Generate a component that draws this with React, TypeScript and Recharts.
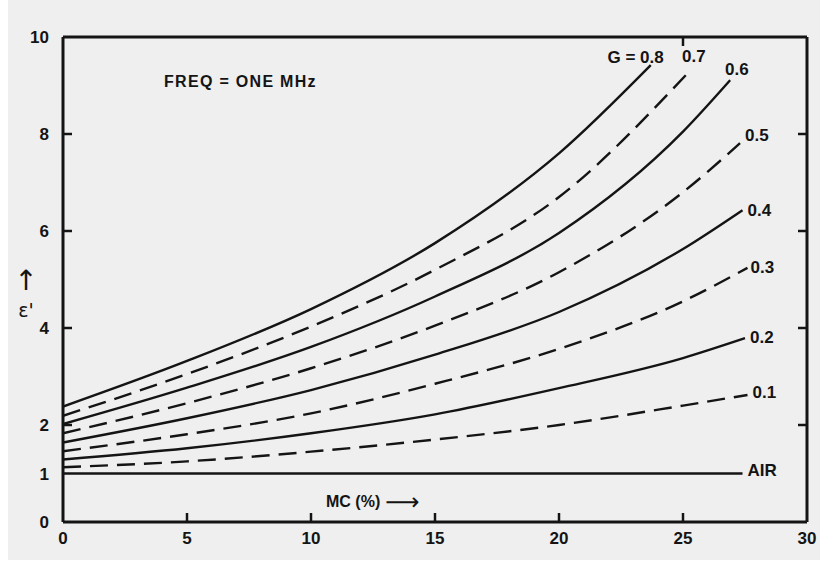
import React from 'react';
import { LineChart, Line, XAxis, YAxis } from 'recharts';

// ---- axis ticks ----
const X_TICKS = [0, 5, 10, 15, 20, 25, 30];
const X_MARKS = [5, 10, 15, 20, 25];
const TOP_MARKS = [25];
const Y_TICKS = [0, 1, 2, 4, 6, 8, 10];
const Y_MARKS = [2, 4, 6, 8];

// ---- series (MC %, epsilon') ----
const MC_08 = [0, 5, 10, 15, 20, 23.7];
const EPS_08 = [2.38, 3.32, 4.39, 5.75, 7.6, 9.42];
const MC_07 = [0, 5, 10, 15, 20, 25.2];
const EPS_07 = [2.19, 3.05, 4.03, 5.2, 6.7, 9.26];
const MC_06 = [0, 5, 10, 15, 20, 25, 26.9];
const EPS_06 = [2.02, 2.77, 3.61, 4.65, 5.96, 8.05, 9.11];
const MC_05 = [0, 5, 10, 15, 20, 25, 27.3];
const EPS_05 = [1.83, 2.45, 3.17, 4.05, 5.15, 6.8, 7.81];
const MC_04 = [0, 5, 10, 15, 20, 25, 27.4];
const EPS_04 = [1.64, 2.14, 2.72, 3.45, 4.33, 5.63, 6.43];
const MC_03 = [0, 5, 10, 15, 20, 25, 27.6];
const EPS_03 = [1.46, 1.81, 2.24, 2.85, 3.57, 4.55, 5.24];
const MC_02 = [0, 5, 10, 15, 20, 25, 27.5];
const EPS_02 = [1.29, 1.52, 1.83, 2.22, 2.76, 3.38, 3.79];
const MC_01 = [0, 5, 10, 15, 20, 25, 27.6];
const EPS_01 = [1.13, 1.25, 1.45, 1.7, 2.0, 2.4, 2.62];
const MC_AIR = [0, 27.4];
const EPS_AIR = [1.0, 1.0];

const SERIES_LABELS = ['G = 0.8', '0.7', '0.6', '0.5', '0.4', '0.3', '0.2', '0.1', 'AIR'];
const SERIES_MC = [MC_08, MC_07, MC_06, MC_05, MC_04, MC_03, MC_02, MC_01, MC_AIR];
const SERIES_EPS = [EPS_08, EPS_07, EPS_06, EPS_05, EPS_04, EPS_03, EPS_02, EPS_01, EPS_AIR];
const SERIES_DASHED = [false, true, false, true, false, true, false, true, false];
// every axis pair shares the same fixed domain; spreading series over them keeps all axes populated
const SERIES_X_AXIS = ['x', 'x', 'x', 'x', 'x', 'x', 'x', 'xb', 'xt'];
const SERIES_Y_AXIS = ['y', 'y', 'y', 'y', 'y', 'y', 'y', 'yl', 'yr'];

// label placement styles relative to the series end point
const LABEL_STYLE = [
  { dx: 13, dy: -8, anchor: 'end' },
  { dx: -6, dy: -16, anchor: 'start' },
  { dx: -5, dy: -11, anchor: 'start' },
  { dx: 5, dy: -8, anchor: 'start' },
  { dx: 5, dy: 0, anchor: 'start' },
  { dx: 3, dy: 0, anchor: 'start' },
  { dx: 5, dy: -1, anchor: 'start' },
  { dx: 5, dy: -2, anchor: 'start' },
  { dx: 5, dy: -3, anchor: 'start' },
];

const INK = '#141414';
const FONT = '"Liberation Sans", Arial, sans-serif';

const buildData = (mc: number[], eps: number[]) => mc.map((m, i) => ({ mc: m, eps: eps[i] }));

const makeLabel = (text: string, count: number, st: { dx: number; dy: number; anchor: string }) =>
  (props: any) => {
    if (props.index !== count - 1) return <g />;
    return (
      <text
        x={props.x + st.dx}
        y={props.y + st.dy}
        textAnchor={st.anchor as any}
        dominantBaseline="central"
        fill={INK}
        fontFamily={FONT}
        fontWeight="bold"
        fontSize={17}
      >
        {text}
      </text>
    );
  };

const tickStyle = { fill: INK, fontSize: 17, fontFamily: FONT, fontWeight: 'bold' } as any;
const EmptyTick = () => <g />;
const markLine = { stroke: INK, strokeWidth: 2.5 };

export default function App() {
  return (
    <div style={{ position: 'absolute', left: 0, top: 0, width: 820, height: 566, background: '#ffffff', overflow: 'hidden' }}>
      <div style={{ position: 'absolute', left: 8, top: 0, width: 812, height: 560, background: '#efefef' }} />
      <div style={{ position: 'absolute', left: 0, top: 0 }}>
        <LineChart width={820} height={566} margin={{ top: 37, right: 13, bottom: 14, left: 23 }}>
          <XAxis
            xAxisId="x"
            dataKey="mc"
            type="number"
            domain={[0, 30]}
            ticks={X_TICKS}
            allowDataOverflow
            height={30}
            tickLine={false}
            tickMargin={4}
            axisLine={{ stroke: INK, strokeWidth: 3 }}
            tick={tickStyle}
          />
          <XAxis
            xAxisId="xb"
            dataKey="mc"
            type="number"
            orientation="bottom"
            mirror
            domain={[0, 30]}
            allowDataOverflow
            ticks={X_MARKS}
            tick={EmptyTick}
            axisLine={false}
            tickSize={9}
            tickLine={markLine}
          />
          <XAxis
            xAxisId="xt"
            dataKey="mc"
            type="number"
            orientation="top"
            mirror
            domain={[0, 30]}
            allowDataOverflow
            ticks={TOP_MARKS}
            tick={EmptyTick}
            tickSize={9}
            axisLine={{ stroke: INK, strokeWidth: 3 }}
            tickLine={markLine}
          />
          <YAxis
            yAxisId="y"
            type="number"
            domain={[0, 10]}
            allowDataOverflow
            ticks={Y_TICKS}
            width={40}
            tickLine={false}
            tickMargin={8}
            axisLine={{ stroke: INK, strokeWidth: 3 }}
            tick={tickStyle}
          />
          <YAxis
            yAxisId="yl"
            type="number"
            orientation="left"
            mirror
            domain={[0, 10]}
            allowDataOverflow
            ticks={Y_MARKS}
            tick={EmptyTick}
            axisLine={false}
            tickSize={9}
            tickLine={markLine}
          />
          <YAxis
            yAxisId="yr"
            type="number"
            orientation="right"
            mirror
            domain={[0, 10]}
            allowDataOverflow
            ticks={Y_MARKS}
            tick={EmptyTick}
            tickSize={9}
            axisLine={{ stroke: INK, strokeWidth: 3 }}
            tickLine={markLine}
          />
          {SERIES_LABELS.map((name, i) => (
            <Line
              key={name}
              xAxisId={SERIES_X_AXIS[i]}
              yAxisId={SERIES_Y_AXIS[i]}
              data={buildData(SERIES_MC[i], SERIES_EPS[i])}
              dataKey="eps"
              name={name}
              type="monotone"
              stroke={INK}
              strokeWidth={2.4}
              strokeDasharray={SERIES_DASHED[i] ? '18 9' : undefined}
              dot={false}
              activeDot={false}
              isAnimationActive={false}
              label={makeLabel(name, SERIES_MC[i].length, LABEL_STYLE[i])}
            />
          ))}
        </LineChart>
      </div>
      <div
        style={{
          position: 'absolute', left: 164, top: 73, fontFamily: FONT, fontWeight: 'bold',
          fontSize: 16, letterSpacing: 1.3, color: INK, whiteSpace: 'nowrap',
        }}
      >
        FREQ = ONE MHz
      </div>
      <div
        style={{
          position: 'absolute', left: 326, top: 488, fontFamily: FONT, fontWeight: 'bold',
          fontSize: 16, color: INK, whiteSpace: 'nowrap', display: 'flex', alignItems: 'center',
        }}
      >
        <span>MC (%)</span>
        <span style={{ fontFamily: '"DejaVu Sans"', fontSize: 24, marginLeft: 5, fontWeight: 'normal' }}>⟶</span>
      </div>
      <div
        style={{
          position: 'absolute', left: 14, top: 266, width: 24, display: 'flex', flexDirection: 'column',
          alignItems: 'center', fontFamily: '"DejaVu Sans"', color: INK, lineHeight: 1,
        }}
      >
        <span style={{ fontSize: 28, lineHeight: '30px' }}>↑</span>
        <span style={{ fontSize: 19, lineHeight: '20px', marginTop: 4 }}>ε'</span>
      </div>
    </div>
  );
}
